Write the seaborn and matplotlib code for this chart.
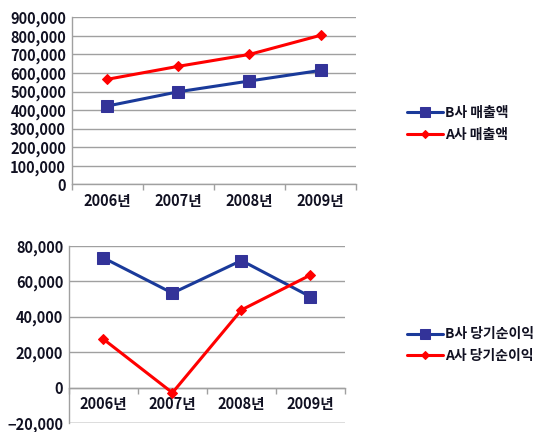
import matplotlib
matplotlib.use("Agg")
import matplotlib.pyplot as plt
import seaborn as sns
import pandas as pd
import numpy as np
from matplotlib.ticker import FuncFormatter, FixedLocator

sns.set_theme(style="white")
plt.rcParams['font.family'] = ['Noto Sans CJK KR', 'DejaVu Sans']

years = ["2006년", "2007년", "2008년", "2009년"]
sales_b = [422000, 499000, 557000, 614000]
sales_a = [566000, 636000, 700000, 803000]
profit_b = [73200, 53300, 71700, 51250]
profit_a = [27300, -2950, 43800, 63500]

sales_labels = ["B사 매출액", "A사 매출액"]
profit_labels = ["B사 당기순이익", "A사 당기순이익"]

BLUE_LINE = "#1a3a9a"
BLUE_MARK = "#333399"
RED = "#ff0000"
TXT = "#111122"
GRID = "#a0a0a0"

fig = plt.figure(figsize=(5.34, 4.32), dpi=100)
ax1 = fig.add_axes([0.134, 0.573, 0.533, 0.387])
ax2 = fig.add_axes([0.129, 0.021, 0.517, 0.410])

def draw(ax, b_vals, a_vals, labels):
    xs = np.arange(len(years))
    dfb = pd.DataFrame({"x": xs, "y": b_vals})
    dfa = pd.DataFrame({"x": xs, "y": a_vals})
    sns.lineplot(data=dfb, x="x", y="y", ax=ax, color=BLUE_LINE, lw=2.2,
                 marker="s", markersize=8.5, markerfacecolor=BLUE_MARK,
                 markeredgecolor=BLUE_MARK, label=labels[0], zorder=3)
    sns.lineplot(data=dfa, x="x", y="y", ax=ax, color=RED, lw=2.2,
                 marker="D", markersize=5, markerfacecolor=RED,
                 markeredgecolor=RED, label=labels[1], zorder=3)
    ax.set_xlim(-0.5, len(years) - 0.5)
    ax.set_xticks(xs)
    ax.set_xticklabels(years)
    ax.xaxis.set_minor_locator(FixedLocator(np.arange(-0.5, len(years), 1.0)))
    ax.tick_params(axis="x", which="major", length=0, pad=6, labelsize=10.5, colors=TXT)
    ax.tick_params(axis="x", which="minor", length=4, color=GRID, width=1, direction="out", bottom=True)
    ax.tick_params(axis="y", length=0, pad=4, labelsize=10.5, colors=TXT)
    ax.yaxis.set_major_formatter(FuncFormatter(lambda v, p: f"{int(v):,}".replace("-", "−")))
    ax.grid(axis="y", color=GRID, lw=1)
    ax.set_axisbelow(True)
    for s in ["top", "right"]:
        ax.spines[s].set_visible(False)
    for s in ["left", "bottom"]:
        ax.spines[s].set_color(GRID)
        ax.spines[s].set_linewidth(1)
    ax.set_xlabel("")
    ax.set_ylabel("")
    h, l = ax.get_legend_handles_labels()
    ax.get_legend().remove()
    return h, l

h1, l1 = draw(ax1, sales_b, sales_a, sales_labels)
ax1.set_ylim(0, 900000)
ax1.set_yticks(np.arange(0, 900001, 100000))

h2, l2 = draw(ax2, profit_b, profit_a, profit_labels)
ax2.set_ylim(-20000, 80000)
ax2.set_yticks(np.arange(-20000, 80001, 20000))
ax2.spines["bottom"].set_position(("data", 0))
ax2.axhline(-20000, color=GRID, lw=1, zorder=0)

for ax in (ax1, ax2):
    for lab in ax.get_xticklabels() + ax.get_yticklabels():
        lab.set_fontweight("bold")

leg_kw = dict(frameon=False, handlelength=2.6, handletextpad=0.15,
              labelspacing=0.55, borderaxespad=0, prop={"weight": "bold", "size": 10})
lg1 = fig.legend(h1, l1, loc="upper left", bbox_to_anchor=(0.752, 0.768), **leg_kw)
lg2 = fig.legend(h2, l2, loc="upper left", bbox_to_anchor=(0.752, 0.255), **leg_kw)
for lg in (lg1, lg2):
    for t in lg.get_texts():
        t.set_color(TXT)
    for ln in lg.get_lines():
        ln.set_markersize(ln.get_markersize() * 0.8)

fig.savefig("out.png", dpi=100)
